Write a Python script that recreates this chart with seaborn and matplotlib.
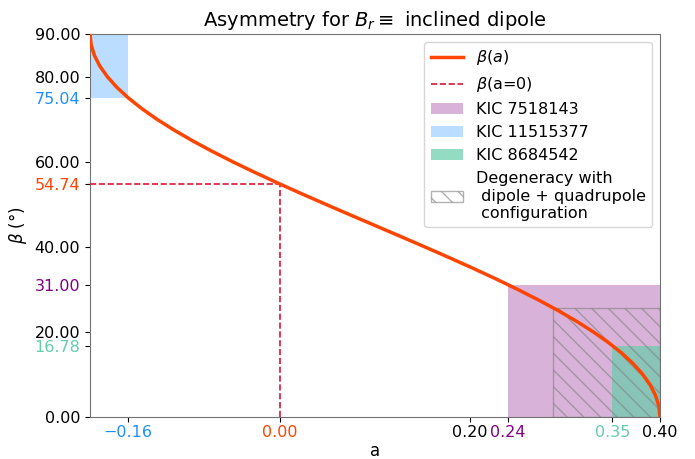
import numpy as np
import matplotlib
matplotlib.use("Agg")
import matplotlib.pyplot as plt
import matplotlib.patches as mpatches
from matplotlib.lines import Line2D
import seaborn as sns
import pandas as pd

# curve beta(a), points
beta_deg = [0, 2.5, 5, 7.5, 10, 12.5, 15, 17.5, 20, 22.5, 25, 27.5, 30, 32.5,
            35, 37.5, 40, 42.5, 45, 47.5, 50, 52.5, 55, 57.5, 60, 62.5, 65,
            67.5, 70, 72.5, 75, 77.5, 80, 82.5, 85, 87.5, 90]
a_vals = [0.4, 0.398858, 0.395442, 0.389778, 0.381908, 0.371892, 0.359808,
          0.345746, 0.329813, 0.312132, 0.292836, 0.272073, 0.25, 0.226785,
          0.202606, 0.177646, 0.152094, 0.126147, 0.1, 0.073853, 0.047906,
          0.022354, -0.002606, -0.026785, -0.05, -0.072073, -0.092836,
          -0.112132, -0.129813, -0.145746, -0.159808, -0.171892, -0.181908,
          -0.189778, -0.195442, -0.198858, -0.2]

magic_beta = 54.74
# star boxes: (a_min, a_max), (beta_min, beta_max)
kic_names = ["KIC 7518143", "KIC 11515377", "KIC 8684542"]
kic_a = [(0.24, 0.40), (-0.2, -0.16), (0.35, 0.40)]
kic_beta = [(0.0, 31.0), (75.04, 90.0), (0.0, 16.78)]
kic_colors = ["purple", "dodgerblue", "mediumaquamarine"]
kic_alpha = [0.3, 0.3, 0.7]
degen_a = (0.287, 0.40)
degen_beta = (0.0, 25.6)

xticks = [-0.16, 0.0, 0.2, 0.24, 0.35, 0.4]
xtick_colors = ["dodgerblue", "orangered", "black", "purple", "mediumaquamarine", "black"]
yticks = [0, 16.78, 20, 31.0, 40, 54.74, 60, 75.04, 80, 90]
ytick_colors = ["black", "mediumaquamarine", "black", "purple", "black",
                "orangered", "black", "dodgerblue", "black", "black"]

df = pd.DataFrame({"a": a_vals, "beta": beta_deg})

fig = plt.figure(figsize=(6.95, 4.59), dpi=100)
ax = fig.add_axes([0.1295, 0.0915, 0.8201, 0.8345])

for (x0, x1), (y0, y1), c, al in zip(kic_a, kic_beta, kic_colors, kic_alpha):
    ax.fill_between([x0, x1], y0, y1, color=c, alpha=al, lw=0, zorder=1)

ax.add_patch(mpatches.Rectangle((degen_a[0], degen_beta[0]), degen_a[1] - degen_a[0],
                                degen_beta[1] - degen_beta[0], fill=False,
                                hatch="\\\\", edgecolor="gray", alpha=0.6, lw=1, zorder=2))

ax.plot([-0.2, 0.0], [magic_beta, magic_beta], ls="--", color="crimson", lw=1.2, zorder=3)
ax.plot([0.0, 0.0], [0, magic_beta], ls="--", color="crimson", lw=1.2, zorder=3)

sns.lineplot(data=df, x="a", y="beta", sort=False, color="orangered", lw=2.5,
             ax=ax, zorder=4)

ax.set_xlim(-0.2, 0.4)
ax.set_ylim(0, 90)
ax.set_xticks(xticks)
ax.set_xticklabels([("%.2f" % v).replace("-", "\u2212") for v in xticks])
ax.set_yticks(yticks)
ax.set_yticklabels(["%.2f" % v for v in yticks])
for lab, c in zip(ax.get_xticklabels(), xtick_colors):
    lab.set_color(c)
for lab, c in zip(ax.get_yticklabels(), ytick_colors):
    lab.set_color(c)
ax.tick_params(labelsize=11.5)
ax.tick_params(axis="x", pad=2.5)
for sp in ax.spines.values():
    sp.set_color("0.45")

ax.set_xlabel("a", fontsize=12, labelpad=1)
ax.set_ylabel(r"$\beta$ (°)", fontsize=12)
ax.set_title(r"Asymmetry for $B_r \equiv$ inclined dipole", fontsize=14)

handles = [Line2D([], [], color="orangered", lw=2.5),
           Line2D([], [], color="crimson", ls="--", lw=1.2)]
for c, al in zip(kic_colors, kic_alpha):
    handles.append(mpatches.Patch(color=c, alpha=al, lw=0))
handles.append(mpatches.Patch(facecolor="white", edgecolor="gray", hatch="\\\\", alpha=0.6))
labels = [r"$\beta(a)$", r"$\beta$(a=0)"] + kic_names + \
         ["Degeneracy with\n dipole + quadrupole\n configuration"]
ax.legend(handles, labels, loc="upper right", fontsize=11.5, framealpha=0.8,
          labelspacing=0.5)

fig.savefig("out.png", dpi=100)
